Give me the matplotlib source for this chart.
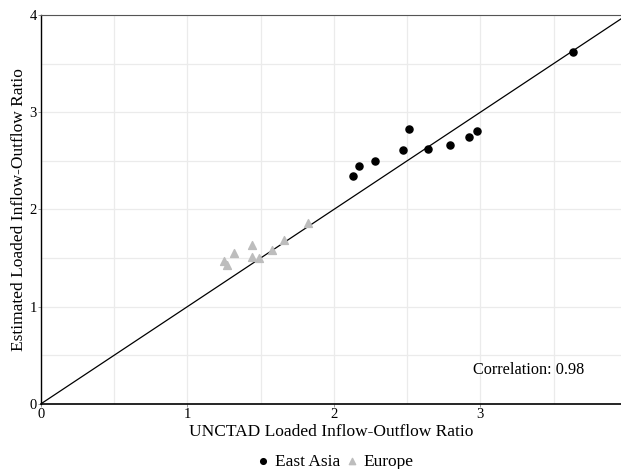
import matplotlib.pyplot as plt
import numpy as np

plt.rcParams['font.family'] = ['Liberation Serif', 'DejaVu Serif']

# East Asia
asia_x = [3.63, 2.51, 2.13, 2.17, 2.28, 2.47, 2.64, 2.79, 2.92, 2.98]
asia_y = [3.62, 2.83, 2.34, 2.45, 2.50, 2.61, 2.62, 2.66, 2.75, 2.81]

# Europe
europe_x = [1.25, 1.27, 1.32, 1.44, 1.44, 1.49, 1.58, 1.66, 1.82]
europe_y = [1.47, 1.43, 1.55, 1.63, 1.51, 1.50, 1.58, 1.69, 1.86]

correlation = 0.98

fig = plt.figure(figsize=(6.21, 4.69), dpi=100)
ax = fig.add_axes([0.066, 0.139, 0.934, 0.829])

ax.set_xlim(0, 3.96)
ax.set_ylim(0, 4)

# grid at 0.5 steps
ax.set_xticks(np.arange(0, 4, 0.5), minor=True)
ax.set_yticks(np.arange(0, 4.01, 0.5), minor=True)
ax.set_xticks([0, 1, 2, 3])
ax.set_yticks([0, 1, 2, 3, 4])
ax.grid(True, which='both', color='#ebebeb', linewidth=0.9)
ax.set_axisbelow(True)
ax.tick_params(which='minor', length=0)
ax.tick_params(which='major', length=2, width=0.6, color='#888888',
               labelsize=10.5, pad=1)

# 45-degree reference line
ax.plot([0, 4], [0, 4], color='black', linewidth=0.9)

ax.scatter(asia_x, asia_y, marker='o', s=26, color='black', zorder=3,
           label='East Asia')
ax.scatter(europe_x, europe_y, marker='^', s=32, color='#bdbdbd', zorder=3,
           label='Europe')

ax.text(3.33, 0.35, f"Correlation: {correlation}", ha='center', va='center',
        fontsize=11.7)

ax.spines['right'].set_visible(False)
ax.spines['top'].set_color('#555555')
ax.spines['left'].set_color('black')
ax.spines['bottom'].set_color('black')
ax.spines['bottom'].set_linewidth(1.2)
ax.spines['left'].set_linewidth(1.0)

ax.set_xlabel("UNCTAD Loaded Inflow-Outflow Ratio", fontsize=12.5, labelpad=2)
ax.set_ylabel("Estimated Loaded Inflow-Outflow Ratio", fontsize=12.5, labelpad=2)

ax.legend(loc='center', bbox_to_anchor=(0.54, 0.015),
          bbox_transform=fig.transFigure, ncol=2,
          frameon=False, fontsize=12.5, handlelength=0.7, handletextpad=0.3,
          columnspacing=0.35, markerscale=0.8, borderpad=0.0)

fig.savefig("out.png", dpi=100)
